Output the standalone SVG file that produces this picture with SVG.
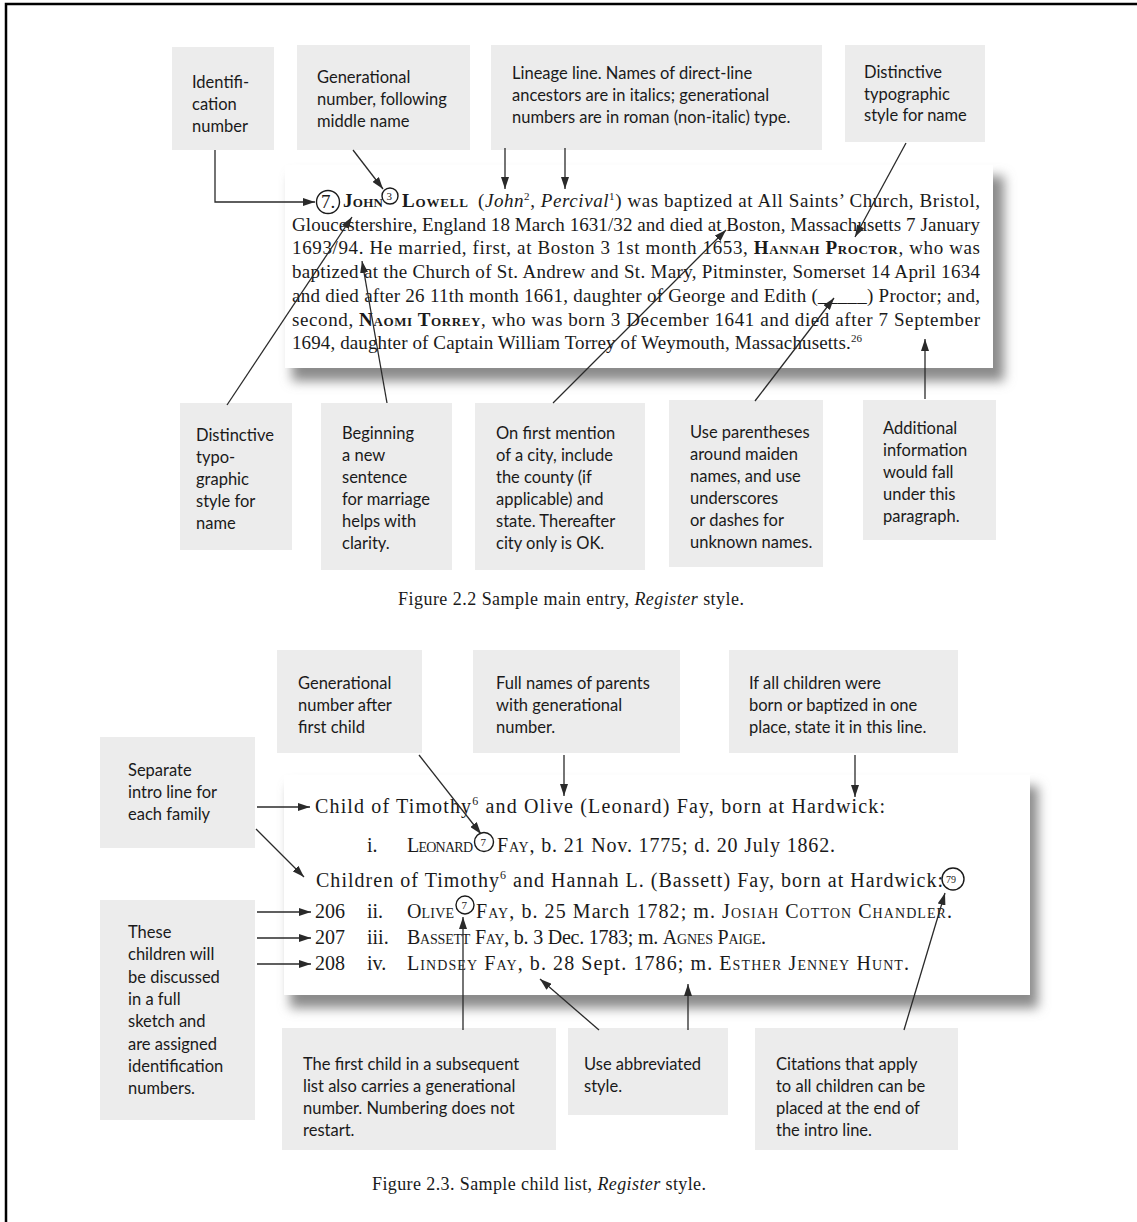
<svg xmlns="http://www.w3.org/2000/svg" width="1137" height="1222" viewBox="0 0 1137 1222">
<defs>
<style>
.note{font-family:Lato,"Liberation Sans",sans-serif;font-size:16.5px;fill:#1a1a1a}
.box{fill:#ececec}
.serif{font-family:"Liberation Serif",serif;font-size:19px;fill:#1a1a1a}
.child{font-family:"Liberation Serif",serif;font-size:20px;fill:#1a1a1a}
.cap{font-family:"Liberation Serif",serif;font-size:18px;fill:#1a1a1a}
.bsc{font-weight:bold;font-variant:small-caps}
.sc{font-variant:small-caps}
.con{fill:none;stroke:#2a2a2a;stroke-width:1.3}
.circ{fill:none;stroke:#1a1a1a;stroke-width:1.4}
</style>
<marker id="ah" viewBox="0 0 12 8" refX="12" refY="4" markerWidth="12" markerHeight="8" markerUnits="userSpaceOnUse" orient="auto">
<path d="M0,0 L12,4 L0,8 z" fill="#2a2a2a"/>
</marker>
<filter id="shadow" x="-5%" y="-10%" width="115%" height="130%">
<feGaussianBlur stdDeviation="6"/>
</filter>
</defs>
<rect width="1137" height="1222" fill="#fff"/>
<path d="M6,1222 V4 H1137" fill="none" stroke="#000" stroke-width="2.5"/>

<!-- Main entry panel -->
<g id="entry-panel">
<rect x="292" y="176" width="712" height="205" fill="#8a8a8a" filter="url(#shadow)"/>
<rect x="285" y="165" width="708" height="203" fill="#fff"/>
<g class="serif">
<circle class="circ" cx="328" cy="202" r="11.5"/>
<text x="321" y="208">7.</text>
<text x="343" y="207" class="bsc" textLength="40">John</text>
<circle class="circ" cx="390" cy="196" r="8"/>
<text x="386.5" y="200" font-size="11">3</text>
<text x="402" y="207" class="bsc" textLength="66">Lowell</text>
<text x="478" y="207" textLength="502" lengthAdjust="spacing">(<tspan font-style="italic">John</tspan><tspan font-size="11" dy="-7">2</tspan><tspan dy="7">, </tspan><tspan font-style="italic">Percival</tspan><tspan font-size="11" dy="-7">1</tspan><tspan dy="7">) was baptized at All Saints’ Church, Bristol,</tspan></text>
<text x="292" y="231" textLength="688" lengthAdjust="spacing">Gloucestershire, England 18 March 1631/32 and died at Boston, Massachusetts 7 January</text>
<text x="292" y="254" textLength="688" lengthAdjust="spacing">1693/94. He married, first, at Boston 3 1st month 1653, <tspan class="bsc">Hannah Proctor</tspan>, who was</text>
<text x="292" y="278" textLength="688" lengthAdjust="spacing">baptized at the Church of St. Andrew and St. Mary, Pitminster, Somerset 14 April 1634</text>
<text x="292" y="302" textLength="688" lengthAdjust="spacing">and died after 26 11th month 1661, daughter of George and Edith (_____) Proctor; and,</text>
<text x="292" y="326" textLength="688" lengthAdjust="spacing">second, <tspan class="bsc">Naomi Torrey</tspan>, who was born 3 December 1641 and died after 7 September</text>
<text x="292" y="349" textLength="570" lengthAdjust="spacing">1694, daughter of Captain William Torrey of Weymouth, Massachusetts.<tspan font-size="11" dy="-7">26</tspan></text>
</g>
</g>

<!-- Top annotation boxes -->
<g id="note-identification">
<rect class="box" x="172" y="47" width="102" height="103"/>
<text class="note" x="192" y="88">Identifi-</text>
<text class="note" x="192" y="110">cation</text>
<text class="note" x="192" y="132">number</text>
</g>
<g id="note-generational">
<rect class="box" x="297" y="45" width="173" height="105"/>
<text class="note" x="317" y="83">Generational</text>
<text class="note" x="317" y="105">number, following</text>
<text class="note" x="317" y="127">middle name</text>
</g>
<g id="note-lineage">
<rect class="box" x="491" y="45" width="331" height="105"/>
<text class="note" x="512" y="79">Lineage line. Names of direct-line</text>
<text class="note" x="512" y="101">ancestors are in italics; generational</text>
<text class="note" x="512" y="123">numbers are in roman (non-italic) type.</text>
</g>
<g id="note-typographic-top">
<rect class="box" x="845" y="45" width="140" height="97"/>
<text class="note" x="864" y="78">Distinctive</text>
<text class="note" x="864" y="100">typographic</text>
<text class="note" x="864" y="121">style for name</text>
</g>

<!-- Lower annotation boxes (fig 2.2) -->
<g id="note-typographic-bottom">
<rect class="box" x="180" y="403" width="112" height="147"/>
<text class="note" x="196" y="441">Distinctive</text>
<text class="note" x="196" y="463">typo-</text>
<text class="note" x="196" y="485">graphic</text>
<text class="note" x="196" y="507">style for</text>
<text class="note" x="196" y="529">name</text>
</g>
<g id="note-sentence">
<rect class="box" x="321" y="403" width="131" height="167"/>
<text class="note" x="342" y="439">Beginning</text>
<text class="note" x="342" y="461">a new</text>
<text class="note" x="342" y="483">sentence</text>
<text class="note" x="342" y="505">for marriage</text>
<text class="note" x="342" y="527">helps with</text>
<text class="note" x="342" y="549">clarity.</text>
</g>
<g id="note-city">
<rect class="box" x="475" y="403" width="170" height="167"/>
<text class="note" x="496" y="439">On first mention</text>
<text class="note" x="496" y="461">of a city, include</text>
<text class="note" x="496" y="483">the county (if</text>
<text class="note" x="496" y="505">applicable) and</text>
<text class="note" x="496" y="527">state. Thereafter</text>
<text class="note" x="496" y="549">city only is OK.</text>
</g>
<g id="note-parentheses">
<rect class="box" x="669" y="400" width="154" height="167"/>
<text class="note" x="690" y="438">Use parentheses</text>
<text class="note" x="690" y="460">around maiden</text>
<text class="note" x="690" y="482">names, and use</text>
<text class="note" x="690" y="504">underscores</text>
<text class="note" x="690" y="526">or dashes for</text>
<text class="note" x="690" y="548">unknown names.</text>
</g>
<g id="note-additional">
<rect class="box" x="863" y="400" width="133" height="140"/>
<text class="note" x="883" y="434">Additional</text>
<text class="note" x="883" y="456">information</text>
<text class="note" x="883" y="478">would fall</text>
<text class="note" x="883" y="500">under this</text>
<text class="note" x="883" y="522">paragraph.</text>
</g>

<g id="caption-2-2">
<text class="cap" x="398" y="605" textLength="346" lengthAdjust="spacing">Figure 2.2 Sample main entry, <tspan font-style="italic">Register</tspan> style.</text>
</g>

<!-- Child list panel -->
<g id="child-panel">
<rect x="290" y="786" width="748" height="222" fill="#8a8a8a" filter="url(#shadow)"/>
<rect x="284" y="775" width="746" height="220" fill="#fff"/>
<g class="child">
<text x="315" y="813" textLength="570" lengthAdjust="spacing">Child of Timothy<tspan font-size="12" dy="-8">6</tspan><tspan dy="8"> and Olive (Leonard) Fay, born at Hardwick:</tspan></text>
<text x="367" y="852">i.</text>
<text x="407" y="852" class="sc" textLength="66">Leonard</text>
<circle class="circ" cx="484" cy="842" r="9.5"/>
<text x="480.5" y="846" font-size="11">7</text>
<text x="497" y="852" textLength="338" lengthAdjust="spacing"><tspan class="sc">Fay</tspan>, b. 21 Nov. 1775; d. 20 July 1862.</text>
<text x="316" y="887" textLength="627" lengthAdjust="spacing">Children of Timothy<tspan font-size="12" dy="-8">6</tspan><tspan dy="8"> and Hannah L. (Bassett) Fay, born at Hardwick:</tspan></text>
<circle class="circ" cx="953" cy="879" r="11"/>
<text x="946" y="883" font-size="10">79</text>
<text x="315" y="918">206</text>
<text x="367" y="918">ii.</text>
<text x="407" y="918" class="sc" textLength="47">Olive</text>
<circle class="circ" cx="465" cy="905" r="9"/>
<text x="461.5" y="909" font-size="11">7</text>
<text x="476" y="918" textLength="476" lengthAdjust="spacing"><tspan class="sc">Fay</tspan>, b. 25 March 1782; m. <tspan class="sc">Josiah Cotton Chandler</tspan>.</text>
<text x="315" y="944">207</text>
<text x="367" y="944">iii.</text>
<text x="407" y="944" textLength="359" lengthAdjust="spacing"><tspan class="sc">Bassett Fay</tspan>, b. 3 Dec. 1783; m. <tspan class="sc">Agnes Paige</tspan>.</text>
<text x="315" y="970">208</text>
<text x="367" y="970">iv.</text>
<text x="407" y="970" textLength="502" lengthAdjust="spacing"><tspan class="sc">Lindsey Fay</tspan>, b. 28 Sept. 1786; m. <tspan class="sc">Esther Jenney Hunt</tspan>.</text>
</g>
</g>

<!-- Child list annotation boxes -->
<g id="note-gen-after-first">
<rect class="box" x="277" y="650" width="145" height="103"/>
<text class="note" x="298" y="689">Generational</text>
<text class="note" x="298" y="711">number after</text>
<text class="note" x="298" y="733">first child</text>
</g>
<g id="note-parents">
<rect class="box" x="473" y="650" width="207" height="103"/>
<text class="note" x="496" y="689">Full names of parents</text>
<text class="note" x="496" y="711">with generational</text>
<text class="note" x="496" y="733">number.</text>
</g>
<g id="note-place">
<rect class="box" x="729" y="650" width="229" height="103"/>
<text class="note" x="749" y="689">If all children were</text>
<text class="note" x="749" y="711">born or baptized in one</text>
<text class="note" x="749" y="733">place, state it in this line.</text>
</g>
<g id="note-intro-line">
<rect class="box" x="100" y="737" width="155" height="111"/>
<text class="note" x="128" y="776">Separate</text>
<text class="note" x="128" y="798">intro line for</text>
<text class="note" x="128" y="820">each family</text>
</g>
<g id="note-full-sketch">
<rect class="box" x="100" y="900" width="155" height="220"/>
<text class="note" x="128" y="938">These</text>
<text class="note" x="128" y="960">children will</text>
<text class="note" x="128" y="983">be discussed</text>
<text class="note" x="128" y="1005">in a full</text>
<text class="note" x="128" y="1027">sketch and</text>
<text class="note" x="128" y="1050">are assigned</text>
<text class="note" x="128" y="1072">identification</text>
<text class="note" x="128" y="1094">numbers.</text>
</g>
<g id="note-first-child">
<rect class="box" x="282" y="1028" width="274" height="122"/>
<text class="note" x="303" y="1070">The first child in a subsequent</text>
<text class="note" x="303" y="1092">list also carries a generational</text>
<text class="note" x="303" y="1114">number. Numbering does not</text>
<text class="note" x="303" y="1136">restart.</text>
</g>
<g id="note-abbreviated">
<rect class="box" x="568" y="1028" width="160" height="87"/>
<text class="note" x="584" y="1070">Use abbreviated</text>
<text class="note" x="584" y="1092">style.</text>
</g>
<g id="note-citations">
<rect class="box" x="755" y="1028" width="203" height="122"/>
<text class="note" x="776" y="1070">Citations that apply</text>
<text class="note" x="776" y="1092">to all children can be</text>
<text class="note" x="776" y="1114">placed at the end of</text>
<text class="note" x="776" y="1136">the intro line.</text>
</g>

<g id="caption-2-3">
<text class="cap" x="372" y="1190" textLength="334" lengthAdjust="spacing">Figure 2.3. Sample child list, <tspan font-style="italic">Register</tspan> style.</text>
</g>

<!-- Connectors -->
<g id="connectors" class="con">
<path d="M215,150 V202 H315" marker-end="url(#ah)"/>
<path d="M353,150 L383,189" marker-end="url(#ah)"/>
<path d="M505,148 V189" marker-end="url(#ah)"/>
<path d="M565,148 V189" marker-end="url(#ah)"/>
<path d="M906,143 L855,237" marker-end="url(#ah)"/>
<path d="M227,405 L352,217" marker-end="url(#ah)"/>
<path d="M387,403 L362,261" marker-end="url(#ah)"/>
<path d="M553,403 L726,230" marker-end="url(#ah)"/>
<path d="M755,401 L834,298" marker-end="url(#ah)"/>
<path d="M925,399 V339" marker-end="url(#ah)"/>
<path d="M419,755 L481,834" marker-end="url(#ah)"/>
<path d="M564,755 V796" marker-end="url(#ah)"/>
<path d="M855,755 V797" marker-end="url(#ah)"/>
<path d="M257,807 H310" marker-end="url(#ah)"/>
<path d="M256,829 L304,877" marker-end="url(#ah)"/>
<path d="M257,912 H311" marker-end="url(#ah)"/>
<path d="M257,938 H311" marker-end="url(#ah)"/>
<path d="M257,964 H311" marker-end="url(#ah)"/>
<path d="M463,1030 V917" marker-end="url(#ah)"/>
<path d="M599,1030 L540,979" marker-end="url(#ah)"/>
<path d="M688,1030 V984" marker-end="url(#ah)"/>
<path d="M904,1030 L945,893" marker-end="url(#ah)"/>
</g>
</svg>
